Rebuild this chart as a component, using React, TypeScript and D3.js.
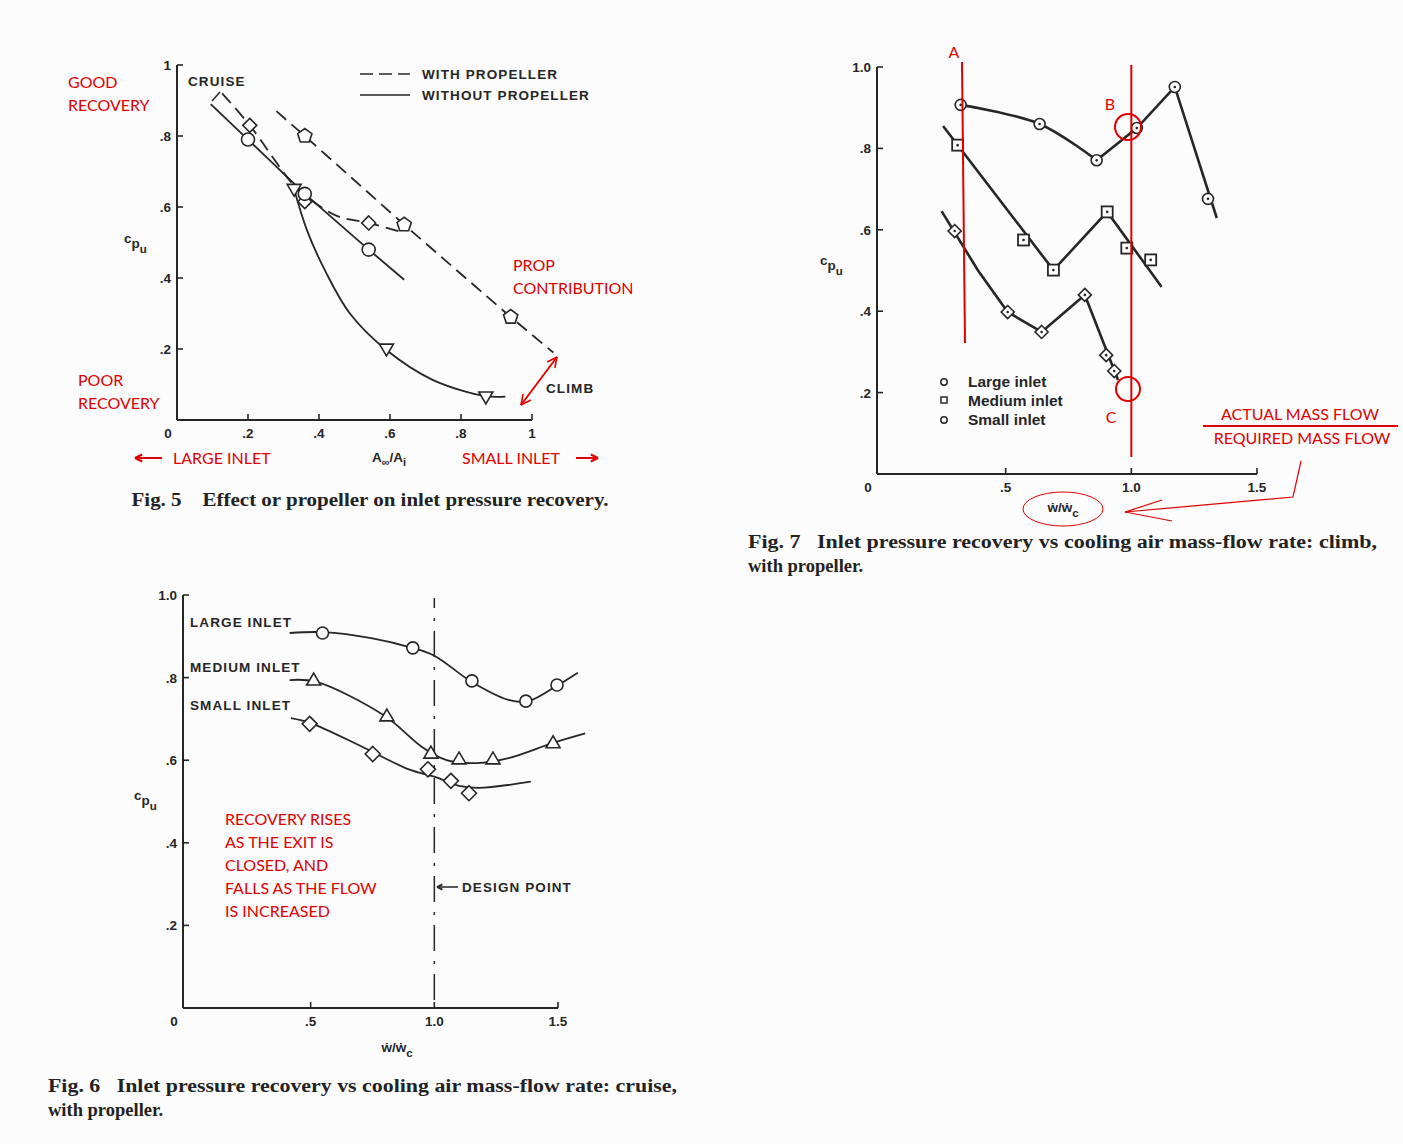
import React from "react";
import * as d3 from "d3";

// ---------------- Fig. 5 data ----------------
const fig5YTicks = [0.2, 0.4, 0.6, 0.8, 1];
const fig5YTickLabels = [".2", ".4", ".6", ".8", "1"];
const fig5XTicks = [0.2, 0.4, 0.6, 0.8, 1];
const fig5XTickLabels = [".2", ".4", ".6", ".8", "1"];
const fig5NoPropLine: [number, number][] = [[0.095, 0.89], [0.2, 0.79], [0.36, 0.637], [0.54, 0.48], [0.64, 0.395]];
const fig5NoPropCircles: [number, number][] = [[0.2, 0.79], [0.36, 0.637], [0.54, 0.48]];
const fig5NoPropCurve: [number, number][] = [[0.33, 0.65], [0.366, 0.535], [0.42, 0.415], [0.487, 0.3], [0.59, 0.197], [0.72, 0.113], [0.87, 0.067], [0.925, 0.066]];
const fig5NoPropTriangles: [number, number][] = [[0.33, 0.65], [0.59, 0.2], [0.87, 0.065]];
const fig5PropCurve: [number, number][] = [[0.127, 0.92], [0.205, 0.83], [0.33, 0.66], [0.375, 0.622], [0.45, 0.575], [0.54, 0.555], [0.63, 0.53]];
const fig5PropDiamonds: [number, number][] = [[0.205, 0.83], [0.36, 0.615], [0.54, 0.555]];
const fig5PropLine: [number, number][] = [[0.28, 0.87], [0.36, 0.8], [0.64, 0.55], [0.94, 0.29], [1.06, 0.19]];
const fig5PropPentagons: [number, number][] = [[0.36, 0.8], [0.64, 0.55], [0.94, 0.29]];

// ---------------- Fig. 6 data ----------------
const fig6YTicks = [0.2, 0.4, 0.6, 0.8, 1.0];
const fig6YTickLabels = [".2", ".4", ".6", ".8", "1.0"];
const fig6XTicks = [0.5, 1.0, 1.5];
const fig6XTickLabels = [".5", "1.0", "1.5"];
const fig6LargeCurve: [number, number][] = [[0.415, 0.908], [0.55, 0.91], [0.75, 0.895], [0.91, 0.872], [1.0, 0.853], [1.15, 0.79], [1.3, 0.746], [1.38, 0.743], [1.5, 0.782], [1.58, 0.812]];
const fig6LargeMarkers: [number, number][] = [[0.548, 0.908], [0.913, 0.872], [1.152, 0.792], [1.37, 0.743], [1.496, 0.782]];
const fig6MediumCurve: [number, number][] = [[0.415, 0.794], [0.52, 0.79], [0.8, 0.707], [0.95, 0.632], [1.05, 0.6], [1.17, 0.593], [1.3, 0.605], [1.48, 0.642], [1.61, 0.665]];
const fig6MediumMarkers: [number, number][] = [[0.512, 0.794], [0.808, 0.707], [0.986, 0.617], [1.1, 0.603], [1.237, 0.603], [1.48, 0.642]];
const fig6SmallCurve: [number, number][] = [[0.42, 0.702], [0.5, 0.69], [0.7, 0.635], [0.9, 0.577], [1.0, 0.56], [1.1, 0.538], [1.18, 0.533], [1.39, 0.548]];
const fig6SmallMarkers: [number, number][] = [[0.496, 0.688], [0.751, 0.615], [0.974, 0.578], [1.067, 0.55], [1.14, 0.52]];
const fig6Labels = ["LARGE INLET", "MEDIUM INLET", "SMALL INLET"];
const fig6LabelY = [0.935, 0.825, 0.733];
const fig6Note = ["RECOVERY RISES", "AS THE EXIT IS", "CLOSED, AND", "FALLS AS THE FLOW", "IS INCREASED"];

// ---------------- Fig. 7 data ----------------
const fig7YTicks = [0.2, 0.4, 0.6, 0.8, 1.0];
const fig7YTickLabels = [".2", ".4", ".6", ".8", "1.0"];
const fig7XTicks = [0.5, 1.0, 1.5];
const fig7XTickLabels = [".5", "1.0", "1.5"];
const fig7LargeCurvePart: [number, number][] = [[0.321, 0.907], [0.635, 0.86], [0.862, 0.771]];
const fig7LargeLinePart: [number, number][] = [[0.862, 0.771], [1.022, 0.85], [1.173, 0.951], [1.34, 0.629]];
const fig7LargeMarkers: [number, number][] = [[0.321, 0.907], [0.635, 0.86], [0.862, 0.771], [1.022, 0.85], [1.173, 0.951], [1.305, 0.676]];
const fig7MediumLine: [number, number][] = [[0.251, 0.855], [0.69, 0.501], [0.904, 0.644], [1.12, 0.46]];
const fig7MediumMarkers: [number, number][] = [[0.309, 0.808], [0.571, 0.575], [0.69, 0.501], [0.904, 0.644], [0.982, 0.555], [1.077, 0.526]];
const fig7SmallLine: [number, number][] = [[0.245, 0.646], [0.39, 0.5], [0.508, 0.398], [0.643, 0.349], [0.815, 0.44], [0.947, 0.231]];
const fig7SmallMarkers: [number, number][] = [[0.297, 0.597], [0.508, 0.398], [0.643, 0.349], [0.815, 0.44], [0.9, 0.292], [0.932, 0.253]];
const fig7Legend = ["Large inlet", "Medium inlet", "Small inlet"];

const INK = "#262626";
const RED = "#e00000";
const SANS = "'Liberation Sans', Arial, sans-serif";
const RED_FONT = "Lato, 'Open Sans', sans-serif";
const SERIF = "'Liberation Serif', 'Times New Roman', serif";

// scales
const x5 = d3.scaleLinear().domain([0, 1]).range([177, 532]);
const y5 = d3.scaleLinear().domain([0, 1]).range([420, 65]);
const x6 = d3.scaleLinear().domain([0, 1.5]).range([187, 558]);
const y6 = d3.scaleLinear().domain([0, 1]).range([1008, 595]);
const x7 = d3.scaleLinear().domain([0, 1.5]).range([880, 1257]);
const y7 = d3.scaleLinear().domain([0, 1]).range([474, 67]);

type Sx = d3.ScaleLinear<number, number>;

function mk(sx: Sx, sy: Sx, curve: d3.CurveFactory = d3.curveLinear) {
  return d3.line<[number, number]>().x((d) => sx(d[0])).y((d) => sy(d[1])).curve(curve);
}

function Circle({ x, y, r = 6.5, dot = false }: any) {
  return (
    <g>
      <circle cx={x} cy={y} r={r} fill="white" stroke={INK} strokeWidth={1.6} />
      {dot && <circle cx={x} cy={y} r={1.3} fill={INK} />}
    </g>
  );
}
function Diamond({ x, y, s = 7.5, dot = false }: any) {
  return (
    <g>
      <polygon points={`${x},${y - s} ${x + s},${y} ${x},${y + s} ${x - s},${y}`} fill="white" stroke={INK} strokeWidth={1.6} />
      {dot && <circle cx={x} cy={y} r={1.3} fill={INK} />}
    </g>
  );
}
function Square({ x, y, s = 6, dot = false }: any) {
  return (
    <g>
      <rect x={x - s} y={y - s} width={2 * s} height={2 * s} fill="white" stroke={INK} strokeWidth={1.8} />
      {dot && <circle cx={x} cy={y} r={1.3} fill={INK} />}
    </g>
  );
}
function TriDown({ x, y, s = 7 }: any) {
  return <polygon points={`${x - s},${y - s * 0.7} ${x + s},${y - s * 0.7} ${x},${y + s}`} fill="white" stroke={INK} strokeWidth={1.6} />;
}
function TriUp({ x, y, s = 7 }: any) {
  return <polygon points={`${x - s},${y + s * 0.7} ${x + s},${y + s * 0.7} ${x},${y - s}`} fill="white" stroke={INK} strokeWidth={1.6} />;
}
function Pentagon({ x, y, s = 7.5 }: any) {
  const pts = d3.range(5).map((i) => {
    const a = Math.PI / 2 + (i * 2 * Math.PI) / 5 - Math.PI / 5;
    return `${x + s * Math.cos(a)},${y + s * Math.sin(a)}`;
  });
  return <polygon points={pts.join(" ")} fill="white" stroke={INK} strokeWidth={1.6} />;
}

function CpuLabel({ x, y }: any) {
  return (
    <text x={x} y={y} fontFamily={SANS} fontWeight="bold" fontSize={13.5} fill={INK}>
      c
      <tspan dy={5} fontSize={13.5}>p</tspan>
      <tspan dy={5} fontSize={11.5}>u</tspan>
    </text>
  );
}

function WLabel({ x, y }: any) {
  return (
    <text x={x} y={y} fontFamily={SANS} fontWeight="bold" fontSize={13.5} fill={INK} textAnchor="middle">
      ẇ/ẇ<tspan dy={5} fontSize={11.5}>c</tspan>
    </text>
  );
}

function Axes({ sx, sy, xTicks, xLabels, yTicks, yLabels, axisX, xEnd, tickLen = 6, ylabOff = 6, xlabDy = 18, size = 13.5 }: any) {
  const x0 = axisX;
  const yb = sy(0);
  return (
    <g>
      <line x1={x0} y1={yb} x2={xEnd} y2={yb} stroke={INK} strokeWidth={2} />
      <line x1={x0} y1={yb} x2={x0} y2={sy(1)} stroke={INK} strokeWidth={2} />
      {xTicks.map((t: number, i: number) => (
        <g key={"xt" + i}>
          <line x1={sx(t)} y1={yb} x2={sx(t)} y2={yb - tickLen} stroke={INK} strokeWidth={1.6} />
          <text x={sx(t)} y={yb + xlabDy} textAnchor="middle" fontFamily={SANS} fontWeight="bold" fontSize={size} fill={INK}>
            {xLabels[i]}
          </text>
        </g>
      ))}
      {yTicks.map((t: number, i: number) => (
        <g key={"yt" + i}>
          <line x1={x0} y1={sy(t)} x2={x0 + tickLen} y2={sy(t)} stroke={INK} strokeWidth={1.6} />
          <text x={x0 - ylabOff} y={sy(t) + 5} textAnchor="end" fontFamily={SANS} fontWeight="bold" fontSize={size} fill={INK}>
            {yLabels[i]}
          </text>
        </g>
      ))}
      <text x={x0 - 9} y={yb + xlabDy} textAnchor="middle" fontFamily={SANS} fontWeight="bold" fontSize={size} fill={INK}>
        0
      </text>
    </g>
  );
}

function Arrowhead({ x, y, angle, len = 9, spread = 0.45, color = RED, w = 1.6 }: any) {
  const a1 = angle + Math.PI - spread;
  const a2 = angle + Math.PI + spread;
  return (
    <g stroke={color} strokeWidth={w} fill="none">
      <line x1={x} y1={y} x2={x + len * Math.cos(a1)} y2={y + len * Math.sin(a1)} />
      <line x1={x} y1={y} x2={x + len * Math.cos(a2)} y2={y + len * Math.sin(a2)} />
    </g>
  );
}

const LBL = { fontFamily: SANS, fontWeight: "bold" as const, fontSize: 13.5, fill: INK, letterSpacing: 1.1 };

function Fig5() {
  const lin = mk(x5, y5);
  const smooth = mk(x5, y5, d3.curveCatmullRom.alpha(0.5));
  const ax = x5(0);
  return (
    <g>
      <Axes sx={x5} sy={y5} xTicks={fig5XTicks} xLabels={fig5XTickLabels} yTicks={fig5YTicks} yLabels={fig5YTickLabels} axisX={ax} xEnd={x5(1)} />
      <path d={lin(fig5NoPropLine) || ""} fill="none" stroke={INK} strokeWidth={1.8} />
      <path d={smooth(fig5NoPropCurve) || ""} fill="none" stroke={INK} strokeWidth={1.8} />
      <path d={smooth(fig5PropCurve) || ""} fill="none" stroke={INK} strokeWidth={1.8} strokeDasharray="13,7" />
      <path d={lin(fig5PropLine) || ""} fill="none" stroke={INK} strokeWidth={1.8} strokeDasharray="13,7" />
      {fig5NoPropTriangles.map((d, i) => <TriDown key={"t" + i} x={x5(d[0])} y={y5(d[1])} />)}
      {fig5PropDiamonds.map((d, i) => <Diamond key={"d" + i} x={x5(d[0])} y={y5(d[1])} s={7} />)}
      {fig5PropPentagons.map((d, i) => <Pentagon key={"p" + i} x={x5(d[0])} y={y5(d[1])} />)}
      {fig5NoPropCircles.map((d, i) => <Circle key={"c" + i} x={x5(d[0])} y={y5(d[1])} />)}
      <text x={188} y={86} {...LBL}>CRUISE</text>
      <line x1={212} y1={101} x2={220} y2={92} stroke={INK} strokeWidth={1.5} />
      <line x1={360} y1={74} x2={410} y2={74} stroke={INK} strokeWidth={1.6} strokeDasharray="13,6" />
      <line x1={360} y1={95} x2={410} y2={95} stroke={INK} strokeWidth={1.6} />
      <text x={422} y={79} {...LBL}>WITH PROPELLER</text>
      <text x={422} y={100} {...LBL}>WITHOUT PROPELLER</text>
      <CpuLabel x={124} y={243} />
      <text x={372} y={462} fontFamily={SANS} fontWeight="bold" fontSize={13.5} fill={INK}>
        A<tspan dy={4} fontSize={11}>∞</tspan><tspan dy={-4}>/A</tspan><tspan dy={4} fontSize={11}>i</tspan>
      </text>
      <text x={546} y={393} {...LBL}>CLIMB</text>
      <g fontFamily={RED_FONT} fontSize={16} fill={RED}>
        <text x={68} y={88}>GOOD</text>
        <text x={68} y={111}>RECOVERY</text>
        <text x={78} y={386}>POOR</text>
        <text x={78} y={409}>RECOVERY</text>
        <text x={513} y={271}>PROP</text>
        <text x={513} y={294}>CONTRIBUTION</text>
        <text x={173} y={464}>LARGE INLET</text>
        <text x={462} y={464}>SMALL INLET</text>
      </g>
      <line x1={135} y1={458} x2={162} y2={458} stroke={RED} strokeWidth={2} />
      <Arrowhead x={135} y={458} angle={Math.PI} len={8} w={2} />
      <line x1={576} y1={458} x2={598} y2={458} stroke={RED} strokeWidth={2} />
      <Arrowhead x={598} y={458} angle={0} len={8} w={2} />
      <line x1={521} y1={405} x2={557} y2={357} stroke={RED} strokeWidth={1.8} />
      <Arrowhead x={557} y={357} angle={Math.atan2(-48, 36)} len={11} />
      <Arrowhead x={521} y={405} angle={Math.atan2(48, -36)} len={11} />
      <text x={370} y={506} fontFamily={SERIF} fontWeight="bold" fontSize={18.5} fill="#222" textAnchor="middle" textLength={477} lengthAdjust="spacingAndGlyphs">
        Fig. 5{"\u00a0\u00a0\u00a0\u00a0"}Effect or propeller on inlet pressure recovery.
      </text>
    </g>
  );
}

function Fig6() {
  const smooth = mk(x6, y6, d3.curveCatmullRom.alpha(0.5));
  const ax = 183;
  return (
    <g>
      <Axes sx={x6} sy={y6} xTicks={fig6XTicks} xLabels={fig6XTickLabels} yTicks={fig6YTicks} yLabels={fig6YTickLabels} axisX={ax} xEnd={x6(1.5)} xlabDy={18} />
      <line x1={x6(1)} y1={y6(0) - 8} x2={x6(1)} y2={598} stroke={INK} strokeWidth={1.5} strokeDasharray="26,10,3,10" />
      <path d={smooth(fig6LargeCurve) || ""} fill="none" stroke={INK} strokeWidth={1.8} />
      <path d={smooth(fig6MediumCurve) || ""} fill="none" stroke={INK} strokeWidth={1.8} />
      <path d={smooth(fig6SmallCurve) || ""} fill="none" stroke={INK} strokeWidth={1.8} />
      {fig6LargeMarkers.map((d, i) => <Circle key={"l" + i} x={x6(d[0])} y={y6(d[1])} r={6} />)}
      {fig6MediumMarkers.map((d, i) => <TriUp key={"m" + i} x={x6(d[0])} y={y6(d[1])} />)}
      {fig6SmallMarkers.map((d, i) => <Diamond key={"s" + i} x={x6(d[0])} y={y6(d[1])} s={7.5} />)}
      {fig6Labels.map((t, i) => (
        <text key={t} x={190} y={y6(fig6LabelY[i]) + 5} {...LBL}>{t}</text>
      ))}
      <line x1={438} y1={887} x2={458} y2={887} stroke={INK} strokeWidth={1.5} />
      <Arrowhead x={437} y={887} angle={Math.PI} len={6} color={INK} w={1.8} />
      <text x={462} y={892} {...LBL}>DESIGN POINT</text>
      <CpuLabel x={134} y={800} />
      <WLabel x={397} y={1052} />
      <g fontFamily={RED_FONT} fontSize={16} fill={RED}>
        {fig6Note.map((t, i) => <text key={t} x={225} y={825 + i * 23}>{t}</text>)}
      </g>
      <text x={48} y={1092} fontFamily={SERIF} fontWeight="bold" fontSize={18.5} fill="#222" textLength={629} lengthAdjust="spacingAndGlyphs">
        Fig. 6{"\u00a0\u00a0\u00a0"}Inlet pressure recovery vs cooling air mass-flow rate: cruise,
      </text>
      <text x={48} y={1116} fontFamily={SERIF} fontWeight="bold" fontSize={18.5} fill="#222">with propeller.</text>
    </g>
  );
}

function Fig7() {
  const lin = mk(x7, y7);
  const smooth = mk(x7, y7, d3.curveCatmullRom.alpha(0.5));
  const ax = 877;
  return (
    <g>
      <Axes sx={x7} sy={y7} xTicks={fig7XTicks} xLabels={fig7XTickLabels} yTicks={fig7YTicks} yLabels={fig7YTickLabels} axisX={ax} xEnd={x7(1.5)} xlabDy={18} />
      <path d={smooth(fig7LargeCurvePart) || ""} fill="none" stroke={INK} strokeWidth={2.6} />
      <path d={lin(fig7LargeLinePart) || ""} fill="none" stroke={INK} strokeWidth={2.6} />
      <path d={lin(fig7MediumLine) || ""} fill="none" stroke={INK} strokeWidth={2.6} />
      <path d={lin(fig7SmallLine) || ""} fill="none" stroke={INK} strokeWidth={2.6} />
      {fig7LargeMarkers.map((d, i) => <Circle key={"l" + i} x={x7(d[0])} y={y7(d[1])} r={5.5} dot />)}
      {fig7MediumMarkers.map((d, i) => <Square key={"m" + i} x={x7(d[0])} y={y7(d[1])} s={5.5} dot />)}
      {fig7SmallMarkers.map((d, i) => <Diamond key={"s" + i} x={x7(d[0])} y={y7(d[1])} s={6.5} dot />)}
      <circle cx={944} cy={382} r={3.2} fill="white" stroke={INK} strokeWidth={1.5} />
      <rect x={941} y={397} width={6} height={6} fill="white" stroke={INK} strokeWidth={1.5} />
      <circle cx={944} cy={420} r={3.2} fill="white" stroke={INK} strokeWidth={1.5} />
      {fig7Legend.map((t, i) => (
        <text key={t} x={968} y={387 + i * 19} fontFamily={SANS} fontWeight="bold" fontSize={15.5} fill={INK}>{t}</text>
      ))}
      <CpuLabel x={820} y={265} />
      <WLabel x={1063} y={512} />
      <g stroke={RED} strokeWidth={2} fill="none">
        <line x1={962} y1={62} x2={965} y2={343} />
        <line x1={x7(1)} y1={65} x2={x7(1)} y2={457} />
        <circle cx={1128} cy={127} r={13} />
        <circle cx={1128} cy={389} r={12} />
        <line x1={1203} y1={426} x2={1398} y2={426} />
      </g>
      <g fontFamily={RED_FONT} fontSize={16} fill={RED}>
        <text x={954} y={58} textAnchor="middle">A</text>
        <text x={1110} y={110} textAnchor="middle">B</text>
        <text x={1111} y={423} textAnchor="middle">C</text>
        <text x={1300} y={420} textAnchor="middle">ACTUAL MASS FLOW</text>
        <text x={1302} y={444} textAnchor="middle">REQUIRED MASS FLOW</text>
      </g>
      <ellipse cx={1063} cy={509} rx={40} ry={17} fill="none" stroke={RED} strokeWidth={1} />
      <polyline points="1301,461 1293,497 1125,512" fill="none" stroke={RED} strokeWidth={1.2} />
      <line x1={1125} y1={512} x2={1162} y2={500} stroke={RED} strokeWidth={1.2} />
      <line x1={1125} y1={512} x2={1172} y2={521} stroke={RED} strokeWidth={1.2} />
      <text x={748} y={548} fontFamily={SERIF} fontWeight="bold" fontSize={18.5} fill="#222" textLength={629} lengthAdjust="spacingAndGlyphs">
        Fig. 7{"\u00a0\u00a0\u00a0"}Inlet pressure recovery vs cooling air mass-flow rate: climb,
      </text>
      <text x={748} y={572} fontFamily={SERIF} fontWeight="bold" fontSize={18.5} fill="#222">with propeller.</text>
    </g>
  );
}

export default function App() {
  return (
    <div style={{ position: "absolute", left: 0, top: 0, width: 1403, height: 1144 }}>
      <svg width={1403} height={1144} viewBox="0 0 1403 1144" style={{ display: "block", background: "#fcfcfc" }}>
        <Fig5 />
        <Fig6 />
        <Fig7 />
      </svg>
    </div>
  );
}
